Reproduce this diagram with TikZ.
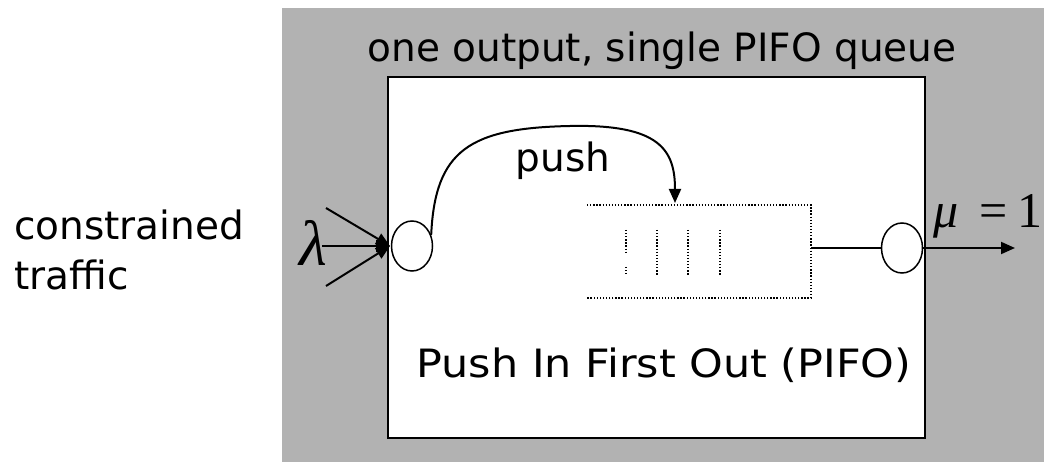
\documentclass[tikz,border=0pt]{standalone}
\usepackage{fontspec}
\newfontfamily\labelfont{DejaVu Sans}
\newfontfamily\symfont{Liberation Serif}
\usetikzlibrary{shapes.geometric,arrows.meta}
\definecolor{panelgray}{RGB}{178,178,178}
\begin{document}
\begin{tikzpicture}[x=1pt,y=1pt,
  lbl/.style={font=\labelfont\fontsize{39}{50}\selectfont, inner sep=0pt},
  port/.style={draw, ellipse, line width=1.5pt, fill=white, minimum width=41pt, minimum height=50pt, inner sep=0pt},
  flow/.style={line width=2pt, -{Triangle[length=14pt,width=12pt]}},
  qline/.style={line width=1.3pt, dash pattern=on 1.3pt off 1.8pt}
]
\useasboundingbox (0,0) rectangle (1044,-462);
% grey panel and white server box
\fill[panelgray] (282,-8) rectangle (1044,-462);
\draw[fill=white, line width=1.5pt] (388,-77) rectangle (925,-438);

% labels
\node[lbl, anchor=base] (title) at (662,-62) {one output, single PIFO queue};
\node[lbl, anchor=base] (pushlbl) at (563,-172) {push};
\node[lbl, anchor=base, xscale=1.1] (pifo) at (664,-377) {Push In First Out (PIFO)};
\node[lbl, anchor=north west, align=left] (traffic) at (14,-210) {constrained\\traffic};

% input and output ports
\node[port] (inport) at (412,-246) {};
\node[port] (outport) at (902,-248) {};

% incoming traffic
\coordinate (conv) at (390,-246);
\coordinate (srcU) at (326,-208);
\coordinate (srcM) at (322,-246);
\coordinate (srcD) at (326,-286);
\draw[flow] (srcU) -- (conv);
\draw[flow] (srcM) -- (conv);
\draw[flow] (srcD) -- (conv);
\node[font=\symfont\itshape\fontsize{64}{64}\selectfont, inner sep=0pt, anchor=base east] (lam) at (327,-266) {λ};

% PIFO queue buffer (open on the left)
\coordinate (qTL) at (587,-205);
\coordinate (qTR) at (811,-205);
\coordinate (qBR) at (811,-298);
\coordinate (qBL) at (587,-298);
\coordinate (qOut) at (811,-248);
\draw[qline] (qTL) -- (qTR) -- (qBR) -- (qBL);
% queued packets
\draw[qline] (626,-230) -- (626,-252) (626,-267) -- (626,-276);
\foreach \px in {657,688,720} \draw[qline] (\px,-230) -- (\px,-276);

% push into the queue
\coordinate (pushTip) at (675,-203);
\draw[flow] (inport.30) .. controls (435,-150) and (470,-128) .. (570,-126)
  .. controls (660,-124) and (675,-150) .. (pushTip);

% departure
\draw[line width=2pt] (qOut) -- (outport);
\coordinate (exit) at (1015,-248);
\draw[flow] (outport) -- (exit);
\node[font=\symfont\fontsize{50}{50}\selectfont, inner sep=0pt, anchor=base west] (rate) at (933,-228) {{\itshape μ}\hspace{21pt}=\hspace{10pt}1};
\end{tikzpicture}
\end{document}
